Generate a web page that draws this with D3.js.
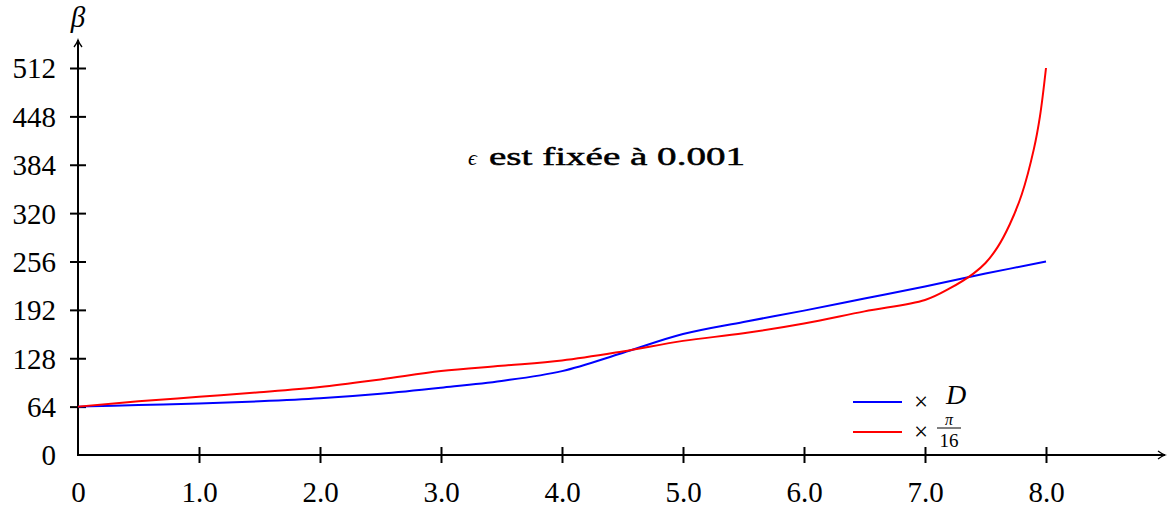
<!DOCTYPE html>
<html>
<head>
<meta charset="utf-8">
<script src="https://cdn.jsdelivr.net/npm/d3@7"></script>
<style>
  body { margin: 0; background: #fff; }
  svg { display: block; }
  text { font-family: "Liberation Serif", "DejaVu Serif", serif; fill: #000; }
</style>
</head>
<body>
<div id="chart"></div>
<script>
// data
var xTicks = [0, 1, 2, 3, 4, 5, 6, 7, 8];
var yTicks = [0, 64, 128, 192, 256, 320, 384, 448, 512];

var dX = [0, 0.5, 1, 1.5, 2, 2.5, 3, 3.5, 4, 4.5, 5, 5.5, 6, 6.5, 7, 7.5, 8];
var dVals = [64, 66, 68, 71, 75, 81, 89, 98, 111, 135, 160, 176, 191, 207, 223, 240, 256];

var piX = [0, 0.5, 1, 1.5, 2, 2.5, 3, 3.5, 4, 4.5, 5, 5.5, 6, 6.5, 7, 7.2, 7.4, 7.5, 7.6, 7.7, 7.8, 7.9, 7.95, 8];
var piVals = [64, 71, 77, 83, 90, 100, 111, 118, 125, 137, 151, 161, 174, 190, 205, 220, 240, 254, 275, 305, 345, 405, 448, 512];

var svgWidth = 1171;
var svgHeight = 509;

var svg = d3.select("#chart")
  .append("svg")
  .attr("width", svgWidth)
  .attr("height", svgHeight);

var x = d3.scaleLinear().domain([0, 8]).range([78, 1046]);
var y = d3.scaleLinear().domain([0, 512]).range([455, 68]);

// arrow heads
var defs = svg.append("defs");
defs.append("marker")
  .attr("id", "arrow")
  .attr("viewBox", "-8 -5 10 10")
  .attr("refX", 0)
  .attr("refY", 0)
  .attr("markerWidth", 10)
  .attr("markerHeight", 10)
  .attr("markerUnits", "userSpaceOnUse")
  .attr("orient", "auto")
  .append("path")
  .attr("d", "M-7,-4 Q-3,-1 0,0 Q-3,1 -7,4")
  .attr("fill", "none")
  .attr("stroke", "#000")
  .attr("stroke-width", 1.3);

// x axis
var xAxis = d3.axisBottom(x)
  .tickValues(xTicks)
  .tickSize(8)
  .tickPadding(18)
  .tickFormat(d => d === 0 ? "0" : d.toFixed(1));

var gx = svg.append("g")
  .attr("transform", "translate(0,455)")
  .call(xAxis);
gx.select(".domain").remove();
gx.selectAll(".tick line")
  .attr("y1", -8).attr("y2", 8)
  .attr("stroke", "#000").attr("stroke-width", 2)
  .filter(d => d === 0).remove();
gx.selectAll(".tick text")
  .attr("font-family", "Liberation Serif")
  .attr("font-size", 29)
  .attr("dy", "0.71em");

// y axis
var yAxis = d3.axisLeft(y)
  .tickValues(yTicks)
  .tickSize(8)
  .tickPadding(14);

var gy = svg.append("g")
  .attr("transform", "translate(78,0)")
  .call(yAxis);
gy.select(".domain").remove();
gy.selectAll(".tick line")
  .attr("x1", -8).attr("x2", 8)
  .attr("stroke", "#000").attr("stroke-width", 2)
  .filter(d => d === 0).remove();
gy.selectAll(".tick text")
  .attr("font-family", "Liberation Serif")
  .attr("font-size", 29)
  .attr("dy", "0.34em");

// axis lines with arrows
svg.append("line")
  .attr("x1", 77).attr("y1", 455).attr("x2", 1165).attr("y2", 455)
  .attr("stroke", "#000").attr("stroke-width", 2)
  .attr("marker-end", "url(#arrow)");
svg.append("line")
  .attr("x1", 78).attr("y1", 456).attr("x2", 78).attr("y2", 40)
  .attr("stroke", "#000").attr("stroke-width", 2)
  .attr("marker-end", "url(#arrow)");

svg.append("text")
  .attr("x", 78).attr("y", 27)
  .attr("text-anchor", "middle")
  .attr("font-size", 29)
  .attr("font-style", "italic")
  .text("β");

// curves
var line = d3.line()
  .x(d => x(d[0]))
  .y(d => y(d[1]))
  .curve(d3.curveCatmullRom.alpha(0.5));

svg.append("path")
  .datum(dX.map((v, i) => [v, dVals[i]]))
  .attr("d", line)
  .attr("fill", "none")
  .attr("stroke", "#0000ff")
  .attr("stroke-width", 2);

svg.append("path")
  .datum(piX.map((v, i) => [v, piVals[i]]))
  .attr("d", line)
  .attr("fill", "none")
  .attr("stroke", "#ff0000")
  .attr("stroke-width", 2);

// annotation
svg.append("text")
  .attr("x", 468).attr("y", 165)
  .attr("font-size", 22)
  .attr("font-style", "italic")
  .text("ϵ");
svg.append("text")
  .attr("x", 489).attr("y", 165)
  .attr("font-family", "DejaVu Serif")
  .attr("font-size", 26)
  .attr("stroke", "#000")
  .attr("stroke-width", 0.5)
  .attr("textLength", 256)
  .attr("lengthAdjust", "spacingAndGlyphs")
  .text("est fixée à 0.001");

// legend
svg.append("line")
  .attr("x1", 853).attr("x2", 902).attr("y1", 402).attr("y2", 402)
  .attr("stroke", "#0000ff").attr("stroke-width", 2);
svg.append("line")
  .attr("x1", 853).attr("x2", 902).attr("y1", 432).attr("y2", 432)
  .attr("stroke", "#ff0000").attr("stroke-width", 2);

svg.append("text").attr("x", 921).attr("y", 401)
  .attr("text-anchor", "middle").attr("dy", "0.36em")
  .attr("font-family", "DejaVu Sans").attr("font-size", 25).text("×");
svg.append("text").attr("x", 946).attr("y", 404).attr("font-size", 28)
  .attr("font-style", "italic").text("D");

svg.append("text").attr("x", 921).attr("y", 431)
  .attr("text-anchor", "middle").attr("dy", "0.36em")
  .attr("font-family", "DejaVu Sans").attr("font-size", 25).text("×");
svg.append("text").attr("x", 949).attr("y", 425).attr("font-size", 16)
  .attr("text-anchor", "middle").attr("font-style", "italic").text("π");
svg.append("line")
  .attr("x1", 937).attr("x2", 961).attr("y1", 428).attr("y2", 428)
  .attr("stroke", "#000").attr("stroke-width", 1);
svg.append("text").attr("x", 949).attr("y", 447).attr("font-size", 19)
  .attr("text-anchor", "middle").text("16");
</script>
</body>
</html>
